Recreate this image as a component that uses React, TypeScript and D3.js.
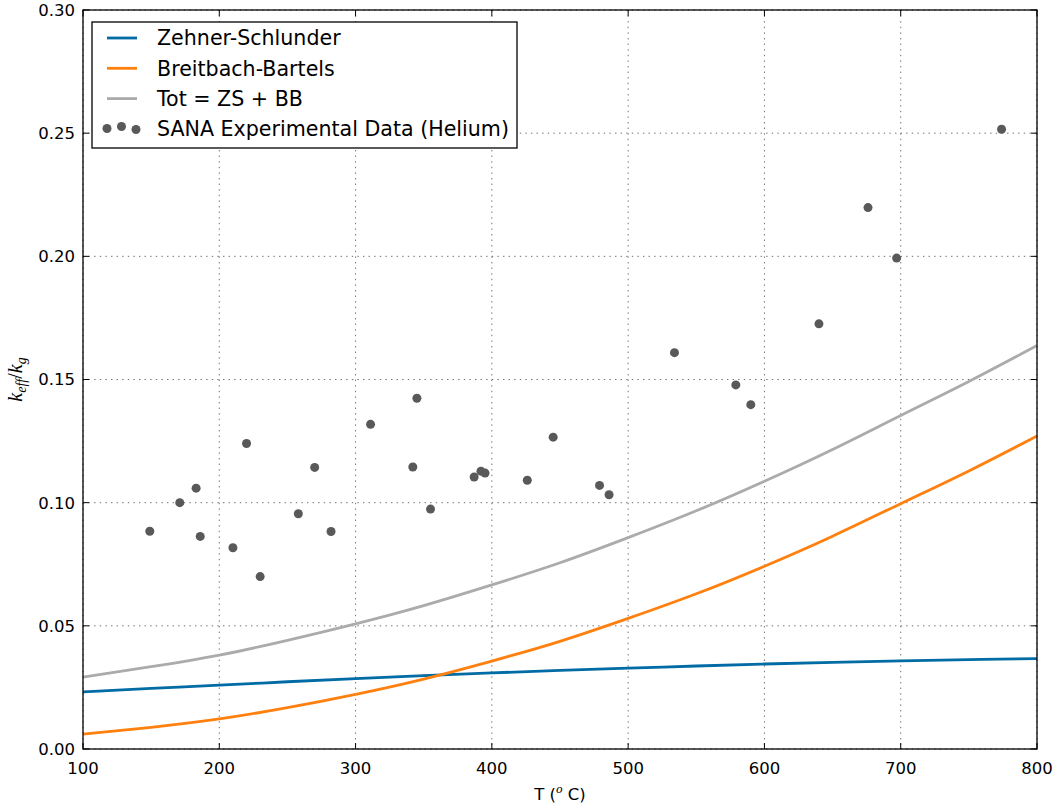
import React from "react";
import * as d3 from "d3";

// Model curves sampled every 50 °C
const temps = [100, 150, 200, 250, 300, 350, 400, 450, 500, 550, 600, 650, 700, 750, 800];
const zehnerSchlunder = [0.0232, 0.0246, 0.0259, 0.0273, 0.0286, 0.0298, 0.0309, 0.0319, 0.0328, 0.0337, 0.0345, 0.0352, 0.0358, 0.0363, 0.0367];
const breitbachBartels = [0.006, 0.0088, 0.0122, 0.0168, 0.0222, 0.0284, 0.0357, 0.0437, 0.053, 0.063, 0.0742, 0.0864, 0.0996, 0.1129, 0.1271];

// SANA experimental measurements (helium)
const sanaT = [149, 171, 183, 186, 210, 220, 230, 258, 270, 282, 311, 342, 345, 355, 387, 392, 395, 426, 445, 479, 486, 534, 579, 590, 640, 676, 697, 774];
const sanaK = [0.0884, 0.1, 0.1059, 0.0863, 0.0817, 0.124, 0.07, 0.0955, 0.1143, 0.0883, 0.1318, 0.1145, 0.1424, 0.0974, 0.1104, 0.1128, 0.112, 0.1091, 0.1266, 0.107, 0.1032, 0.1609, 0.1478, 0.1398, 0.1726, 0.2198, 0.1993, 0.2516];

const xTicks = [100, 200, 300, 400, 500, 600, 700, 800];
const yTicks = [0, 0.05, 0.1, 0.15, 0.2, 0.25, 0.3];

const seriesNames = ["Zehner-Schlunder", "Breitbach-Bartels", "Tot = ZS + BB", "SANA Experimental Data (Helium)"];
const seriesColors = ["#006BA4", "#FF800E", "#ABABAB", "#595959"];

const W = 1056;
const H = 807;
const left = 83;
const right = 1037;
const top = 10;
const bottom = 749;

export default function App() {
  const x = d3.scaleLinear().domain([100, 800]).range([left, right]);
  const y = d3.scaleLinear().domain([0, 0.3]).range([bottom, top]);

  const total = temps.map((_, i) => zehnerSchlunder[i] + breitbachBartels[i]);

  const line = d3
    .line<number>()
    .x((_, i) => x(temps[i]))
    .y((d) => y(d))
    .curve(d3.curveNatural);

  const curves = [zehnerSchlunder, breitbachBartels, total];

  const tickLen = 6;
  const tickFont = "'DejaVu Sans', sans-serif";
  const fmtY = d3.format(".2f");

  // legend layout
  const lgX = 92;
  const lgY = 22;
  const lgW = 425;
  const lgH = 126;
  const rowY = [38, 68.3, 98.6, 129];

  return (
    <svg
      width={W}
      height={H}
      style={{ position: "absolute", left: 0, top: 0, background: "#fff" }}
      fontFamily={tickFont}
    >
      <rect x={0} y={0} width={W} height={H} fill="#fff" />

      {/* grid */}
      <g stroke="#000" strokeWidth={0.7} strokeDasharray="1.4,4.2" opacity={0.8}>
        {xTicks.map((t) => (
          <line key={"gx" + t} x1={x(t)} x2={x(t)} y1={top} y2={bottom} />
        ))}
        {yTicks.map((t) => (
          <line key={"gy" + t} x1={left} x2={right} y1={y(t)} y2={y(t)} />
        ))}
      </g>

      {/* model curves */}
      <g fill="none" strokeWidth={2.8}>
        {curves.map((c, i) => (
          <path key={"c" + i} d={line(c) || ""} stroke={seriesColors[i]} />
        ))}
      </g>

      {/* experimental points */}
      <g fill={seriesColors[3]}>
        {sanaT.map((t, i) => (
          <circle key={"p" + i} cx={x(t)} cy={y(sanaK[i])} r={4.5} />
        ))}
      </g>

      {/* frame */}
      <rect
        x={left}
        y={top}
        width={right - left}
        height={bottom - top}
        fill="none"
        stroke="#000"
        strokeWidth={1.3}
      />

      {/* ticks, pointing inward on all four sides */}
      <g stroke="#000" strokeWidth={1}>
        {xTicks.map((t) => (
          <g key={"tx" + t}>
            <line x1={x(t)} x2={x(t)} y1={bottom} y2={bottom - tickLen} />
            <line x1={x(t)} x2={x(t)} y1={top} y2={top + tickLen} />
          </g>
        ))}
        {yTicks.map((t) => (
          <g key={"ty" + t}>
            <line x1={left} x2={left + tickLen} y1={y(t)} y2={y(t)} />
            <line x1={right} x2={right - tickLen} y1={y(t)} y2={y(t)} />
          </g>
        ))}
      </g>

      {/* tick labels */}
      <g fontSize={16.5} fill="#000">
        {xTicks.map((t) => (
          <text key={"lx" + t} x={x(t)} y={bottom + 25} textAnchor="middle">
            {t}
          </text>
        ))}
        {yTicks.map((t) => (
          <text key={"ly" + t} x={left - 8} y={y(t)} dy="0.36em" textAnchor="end">
            {fmtY(t)}
          </text>
        ))}
      </g>

      {/* axis labels */}
      <text x={(left + right) / 2} y={800} textAnchor="middle" fontSize={16.5} fill="#000">
        T (
        <tspan fontFamily="'DejaVu Serif', serif" fontStyle="italic" fontSize={11} dy={-7}>
          o
        </tspan>
        <tspan dy={7}> C)</tspan>
      </text>
      <text
        transform={`translate(22, ${(top + bottom) / 2}) rotate(-90)`}
        textAnchor="middle"
        fontFamily="'Liberation Serif', serif"
        fontStyle="italic"
        fontSize={20}
        fill="#000"
      >
        k
        <tspan fontSize={14} dy={3.5}>
          eff
        </tspan>
        <tspan fontStyle="normal" dy={-3.5}>
          /
        </tspan>
        <tspan>k</tspan>
        <tspan fontSize={14} dy={3.5}>
          g
        </tspan>
      </text>

      {/* legend */}
      <g>
        <rect x={lgX} y={lgY} width={lgW} height={lgH} fill="#fff" stroke="#000" strokeWidth={1.3} />
        {seriesNames.map((name, i) => (
          <g key={"lg" + i}>
            {i < 3 ? (
              <line x1={107} x2={137} y1={rowY[i]} y2={rowY[i]} stroke={seriesColors[i]} strokeWidth={2.8} />
            ) : (
              <g fill={seriesColors[3]}>
                <circle cx={107} cy={rowY[i] - 0.5} r={4.5} />
                <circle cx={121.5} cy={rowY[i] - 2.5} r={4.5} />
                <circle cx={136} cy={rowY[i] + 0.5} r={4.5} />
              </g>
            )}
            <text x={157} y={rowY[i]} dy="0.36em" fontSize={20.6} fill="#000">
              {name}
            </text>
          </g>
        ))}
      </g>
    </svg>
  );
}
